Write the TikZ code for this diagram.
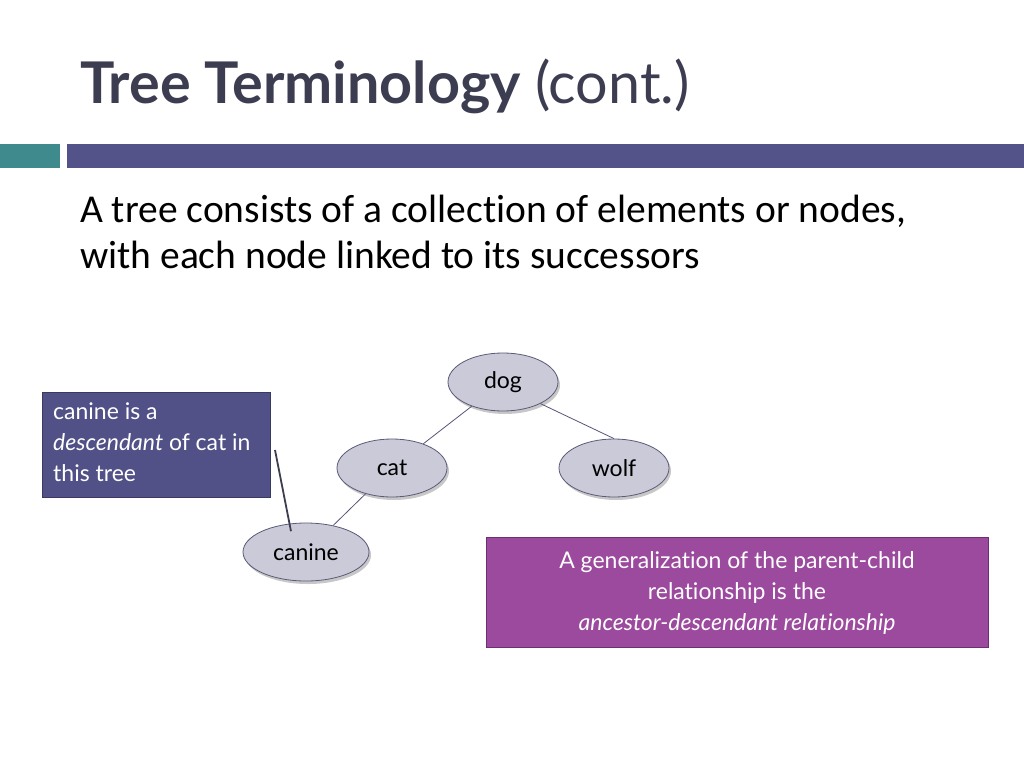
\documentclass[tikz,border=0pt]{standalone}
\usepackage{fontspec}
\setmainfont[RawFeature=-liga]{Carlito}
\newfontfamily\twcen[RawFeature=-liga]{Lato}
\usetikzlibrary{shapes.geometric,shadows}
\definecolor{titlecol}{HTML}{3D3D52}
\definecolor{tealbar}{HTML}{3E8A8C}
\definecolor{purplebar}{HTML}{535389}
\definecolor{ellfill}{HTML}{CACAD9}
\definecolor{elldraw}{HTML}{5A5A78}
\definecolor{edgecol}{HTML}{55557A}
\definecolor{slatebox}{HTML}{515187}
\definecolor{slateborder}{HTML}{3A3A60}
\definecolor{magbox}{HTML}{9B4A9E}
\definecolor{magborder}{HTML}{6E2F72}
\tikzset{
  treenode/.style={ellipse, draw=elldraw, line width=0.8pt, fill=ellfill,
    minimum width=110pt, minimum height=58pt, inner sep=0pt,
    font=\twcen\fontsize{23}{25}\selectfont, text=black,
    drop shadow={shadow xshift=2pt, shadow yshift=-3pt, fill=black, opacity=0.22}},
  treeedge/.style={draw=edgecol, line width=0.8pt},
  notebox/.style={draw, line width=1pt, inner sep=0pt},
  notetext/.style={text=white, inner sep=0pt, font=\twcen\fontsize{23}{31}\selectfont}
}
\begin{document}
\begin{tikzpicture}[x=1pt,y=-1pt]
\useasboundingbox (0,0) rectangle (1024,768);
\fill[white] (0,0) rectangle (1024,768);
% title
\node[anchor=base west, inner sep=0pt, text=titlecol, font=\twcen\fontsize{57.5}{60}\selectfont] (title) at (80,103)
  {\textbf{Tree Terminology} (cont.)};
% bars
\fill[tealbar] (0,144) rectangle (60,168);
\fill[purplebar] (67,144) rectangle (1024,168);
% body text
\node[anchor=base west, inner sep=0pt, font=\fontsize{39.5}{46}\selectfont] (l1) at (80,222)
  {A tree consists of a collection of elements or nodes,};
\node[anchor=base west, inner sep=0pt, font=\fontsize{39.5}{46}\selectfont] (l2) at (80,268)
  {with each node linked to its successors};
% tree
\node[treenode] (dog) at (503,382) {dog};
\node[treenode] (cat) at (392,468) {cat};
\node[treenode] (wolf) at (614,468) {wolf};
\node[treenode, minimum width=126pt] (canine) at (306,552) {canine};
\draw[treeedge] (dog) -- (cat);
\draw[treeedge] (dog.-30) -- (wolf.north);
\draw[treeedge] (cat) -- (canine);
% left note
\node[notebox, draw=slateborder, fill=slatebox, minimum width=228pt, minimum height=105pt, anchor=north west] (note1) at (42,392) {};
\node[notetext, anchor=north west, align=left] (note1text) at (53,403)
  {canine is a\\ \textit{descendant} of cat in\\ this tree};
\coordinate (calloutstart) at (275,450);
\draw[draw=titlecol, line width=1.8pt] (calloutstart) -- (canine.north west -| 291,522);
% right note
\node[notebox, draw=magborder, fill=magbox, minimum width=502pt, minimum height=110pt, anchor=north west] (note2) at (486,537) {};
\node[notetext, align=center] (note2text) at (737,593)
  {A generalization of the parent-child\\ relationship is the\\ \textit{ancestor-descendant relationship}};
\end{tikzpicture}
\end{document}
